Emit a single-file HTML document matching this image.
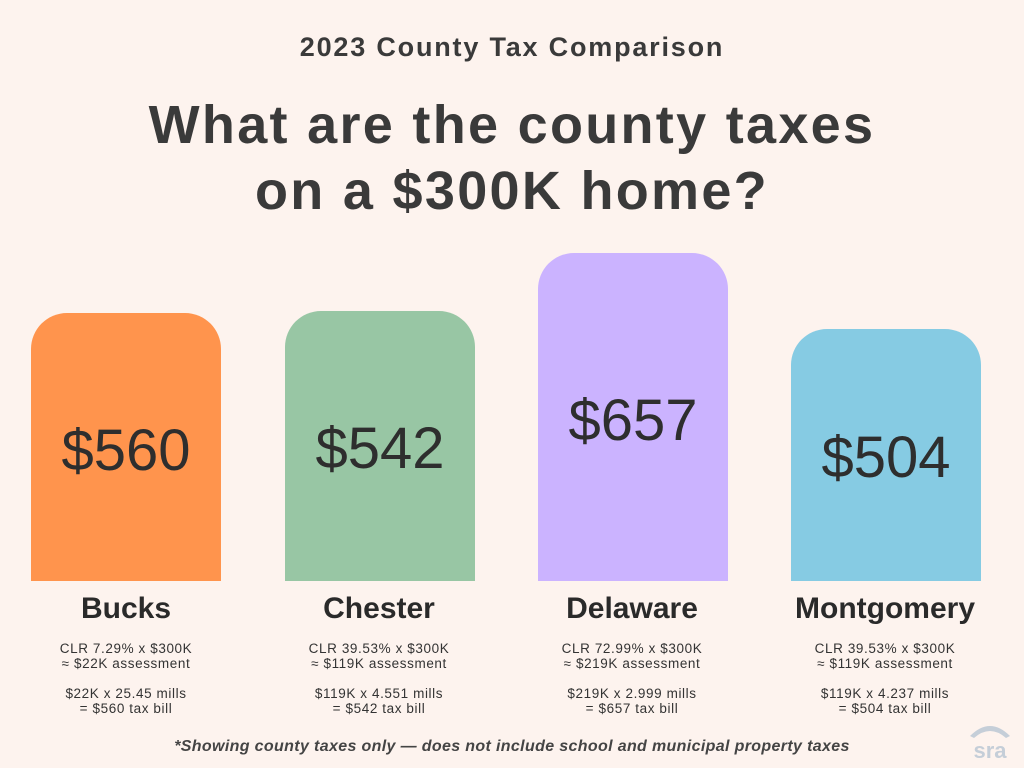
<!DOCTYPE html>
<html><head><meta charset="utf-8"><style>
body{margin:0;width:1024px;height:768px;background:#FDF3EE;font-family:"Liberation Sans",sans-serif;color:#333;position:relative;overflow:hidden}
.a{position:absolute;text-align:center}
.bar{position:absolute;width:190px;border-radius:36px 36px 0 0}
.val{position:absolute;width:190px;text-align:center;font-size:58px;color:#2e2e2e}
.name{position:absolute;width:254px;text-align:center;font-size:30px;font-weight:bold;color:#2a2a2a;top:592px}
.det{position:absolute;width:254px;text-align:center;font-size:13.5px;letter-spacing:0.6px;line-height:15px;color:#333;top:641px}
</style></head><body>
<div class="a" style="left:0;width:1024px;top:32px;font-size:27px;letter-spacing:1.8px;font-weight:bold;color:#3a3a3a">2023 County Tax Comparison</div>
<div class="a" style="left:0;width:1024px;top:92px;font-size:54px;line-height:66px;letter-spacing:2.3px;color:#3a3a3a;font-weight:bold">What are the county taxes<br>on a $300K home?</div>

<div class="bar" style="left:31px;top:313px;height:268px;background:#FF944D"></div>
<div class="bar" style="left:285px;top:311px;height:270px;background:#98C6A4"></div>
<div class="bar" style="left:538px;top:253px;height:328px;background:#CBB3FF"></div>
<div class="bar" style="left:791px;top:329px;height:252px;background:#86CBE3"></div>

<div class="val" style="left:31px;top:417px">$560</div>
<div class="val" style="left:285px;top:415px">$542</div>
<div class="val" style="left:538px;top:387px">$657</div>
<div class="val" style="left:791px;top:424px">$504</div>

<div class="name" style="left:-1px">Bucks</div>
<div class="name" style="left:252px">Chester</div>
<div class="name" style="left:505px">Delaware</div>
<div class="name" style="left:758px">Montgomery</div>

<div class="det" style="left:-1px">CLR 7.29% x $300K<br>≈ $22K assessment<br><br>$22K x 25.45 mills<br>= $560 tax bill</div>
<div class="det" style="left:252px">CLR 39.53% x $300K<br>≈ $119K assessment<br><br>$119K x 4.551 mills<br>= $542 tax bill</div>
<div class="det" style="left:505px">CLR 72.99% x $300K<br>≈ $219K assessment<br><br>$219K x 2.999 mills<br>= $657 tax bill</div>
<div class="det" style="left:758px">CLR 39.53% x $300K<br>≈ $119K assessment<br><br>$119K x 4.237 mills<br>= $504 tax bill</div>

<div class="a" style="left:0;width:1024px;top:738px;font-size:16px;font-style:italic;font-weight:bold;color:#444;letter-spacing:0.35px">*Showing county taxes only — does not include school and municipal property taxes</div>
<svg style="position:absolute;left:968px;top:718px" width="44" height="44"><path d="M2 18 Q22 -2 42 18 L38 20 Q22 6 6 20Z" fill="#c5ced8"/><text x="22" y="40" text-anchor="middle" font-size="22" font-weight="bold" fill="#c5ced8" font-family="Liberation Sans">sra</text></svg>
</body></html>
